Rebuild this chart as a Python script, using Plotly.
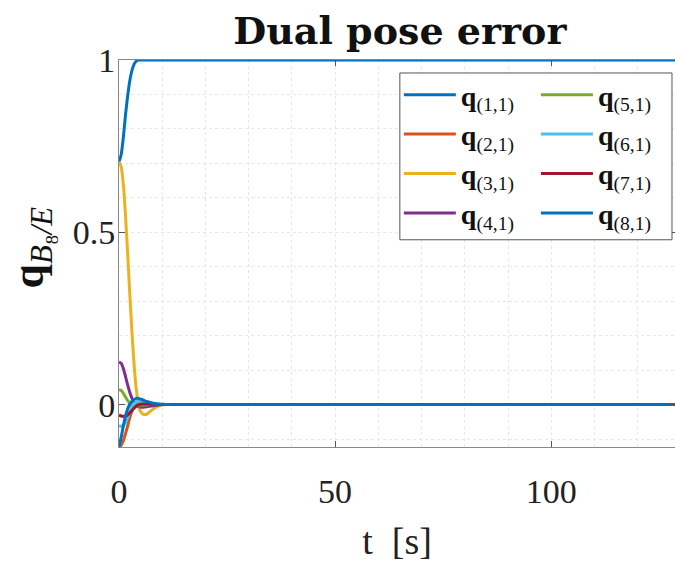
import plotly.graph_objects as go

# ---- data ----
t = [0, 0.5, 1, 1.5, 2, 2.5, 3, 3.5, 4, 4.5, 5, 5.5, 6, 6.5, 7, 8, 9, 10, 11, 12, 15, 130]
q1 = [0.705, 0.725, 0.775, 0.84, 0.895, 0.94, 0.97, 0.988, 0.997, 1, 1, 1, 1, 1, 1, 1, 1, 1, 1, 1, 1, 1]
q2 = [-0.123, -0.118, -0.105, -0.085, -0.062, -0.038, -0.018, -0.004, 0.005, 0.009, 0.01, 0.009, 0.008, 0.006, 0.004, 0.002, 0.001, 0, 0, 0, 0, 0]
q3 = [0.705, 0.69, 0.64, 0.55, 0.44, 0.32, 0.21, 0.115, 0.045, 0.0, -0.02, -0.027, -0.029, -0.027, -0.022, -0.012, -0.005, -0.001, 0, 0, 0, 0]
q4 = [0.123, 0.12, 0.105, 0.082, 0.057, 0.035, 0.018, 0.006, -0.001, -0.005, -0.007, -0.008, -0.007, -0.006, -0.005, -0.003, -0.001, 0, 0, 0, 0, 0]
q5 = [0.043, 0.041, 0.033, 0.022, 0.012, 0.004, -0.001, -0.003, -0.003, -0.003, -0.002, -0.002, -0.001, -0.001, 0, 0, 0, 0, 0, 0, 0, 0]
q6 = [-0.061, -0.063, -0.06, -0.052, -0.038, -0.022, -0.007, 0.003, 0.008, 0.01, 0.01, 0.009, 0.007, 0.005, 0.004, 0.002, 0.001, 0, 0, 0, 0, 0]
q7 = [-0.03, -0.033, -0.034, -0.033, -0.03, -0.024, -0.017, -0.01, -0.005, -0.001, 0.001, 0.002, 0.002, 0.002, 0.001, 0.001, 0, 0, 0, 0, 0, 0]
q8 = [-0.123, -0.095, -0.062, -0.034, -0.013, 0.001, 0.01, 0.015, 0.018, 0.018, 0.016, 0.014, 0.011, 0.009, 0.007, 0.004, 0.002, 0.001, 0, 0, 0, 0]

series = [q1, q2, q3, q4, q5, q6, q7, q8]
names = ["<b>q</b><sub>(%d,1)</sub>" % (i + 1) for i in range(8)]
colors = ["#0072BD", "#D95319", "#EDB120", "#7E2F8E", "#77AC30", "#4DBEEE", "#A2142F", "#0072BD"]

x_ticks = [0, 50, 100]
y_ticks = [0, 0.5, 1]
y_tick_text = ["0", "0.5", "1"]

SERIF = "Liberation Serif"

fig = go.Figure()
for i, (ys, nm, c) in enumerate(zip(series, names, colors)):
    fig.add_trace(go.Scatter(
        x=t, y=ys, mode="lines", name=nm,
        line=dict(color=c, width=3, shape="spline", smoothing=0.6),
        legend="legend" if i < 4 else "legend2",
    ))

W, H = 675, 563
L, R, T, B = 119.3, 0, 60, 115.5
pw, ph = W - L - R, H - T - B

def px(x):
    return (x - L) / pw

def py(y):
    return (H - B - y) / ph

legend_font = dict(family=SERIF, size=28, color="#111")
common_leg = dict(bgcolor="rgba(0,0,0,0)", borderwidth=0, font=legend_font,
                  xanchor="left", yanchor="top", itemwidth=52, tracegroupgap=0)

fig.update_layout(
    width=W, height=H,
    margin=dict(l=L, r=R, t=T, b=B, pad=0),
    paper_bgcolor="white", plot_bgcolor="white",
    title=dict(text="<b>Dual pose error</b>", x=px(400), xref="paper",
               y=1 - 31 / H, yref="container", xanchor="center", yanchor="middle",
               font=dict(family="DejaVu Serif", size=38, color="#111")),
    showlegend=True,
    legend=dict(x=px(399), y=py(70), **common_leg),
    legend2=dict(x=px(536), y=py(70), **common_leg),
    xaxis=dict(
        range=[0, (W - L) / 4.32], tickvals=x_ticks, ticktext=[str(v) for v in x_ticks],
        ticks="inside", ticklen=6, tickcolor="#555", showline=True, linecolor="#888",
        linewidth=1, mirror="ticks", zeroline=False,
        showgrid=True, gridcolor="#e6e6e6", gridwidth=1, griddash="dot",
        minor=dict(dtick=10, tick0=0, showgrid=True, gridcolor="#e6e6e6", griddash="dot", gridwidth=1),
        tickfont=dict(family=SERIF, size=34, color="#222"), ticklabelstandoff=14,
        title=dict(text="t  [s]", font=dict(family=SERIF, size=38, color="#222"), standoff=18),
    ),
    yaxis=dict(
        range=[-0.123, 1], tickvals=y_ticks, ticktext=y_tick_text,
        ticks="inside", ticklen=6, tickcolor="#555", showline=True, linecolor="#888",
        linewidth=1, mirror="ticks", zeroline=False,
        showgrid=True, gridcolor="#e6e6e6", gridwidth=1, griddash="dot",
        minor=dict(dtick=0.1, tick0=0, showgrid=True, gridcolor="#e6e6e6", griddash="dot", gridwidth=1),
        tickfont=dict(family=SERIF, size=34, color="#222"), ticklabelstandoff=-4,
    ),
    shapes=[dict(type="rect", xref="paper", yref="paper",
                 x0=px(400), x1=px(672), y0=py(240), y1=py(73),
                 line=dict(color="#555", width=1), fillcolor="white", layer="above")],
    annotations=[dict(text="<b>q</b><sub><i>B</i>₈<i>/E</i></sub>", textangle=-90,
                      xref="paper", yref="paper", x=px(32), y=py(248),
                      xanchor="center", yanchor="middle", showarrow=False,
                      font=dict(family=SERIF, size=44, color="#111"))],
)

fig.write_html("out.html")
